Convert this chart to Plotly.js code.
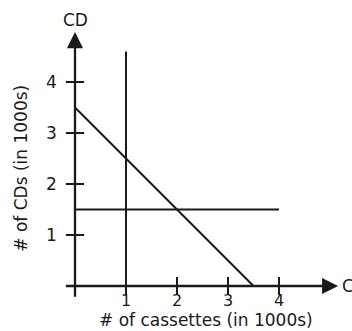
<!DOCTYPE html>
<html><head><meta charset="utf-8">
<script src="https://cdn.plot.ly/plotly-3.0.1.min.js"></script>
<style>html,body{margin:0;padding:0;background:#fff;}#chart{width:352px;height:331px;}</style>
</head><body><div id="chart"></div>
<script>
// Budget / constraint lines (in 1000s)
const vLineX = [1, 1];
const vLineY = [0, 4.6];
const hLineX = [0, 4];
const hLineY = [1.5, 1.5];
const diagX = [0, 3.5];
const diagY = [3.5, 0];
// Axis ticks
const xTicks = [1, 2, 3, 4];
const yTicks = [1, 2, 3, 4];
const xTickLabels = ["1", "2", "3", "4"];
const yTickLabels = ["1", "2", "3", "4"];
// Axis extents
const xAxisX = [-0.18, 5.0];
const xAxisY = [0, 0];
const yAxisX = [0, 0];
const yAxisY = [-0.21, 4.85];
const xArrowTip = 5.16;
const yArrowTip = 4.98;

const FONT = "DejaVu Sans, Liberation Sans, Arial, sans-serif";
const FS = 17;
const ink = "#1a1a1a";
const lineStyle = {color: ink, width: 2};

const traces = [
  {x: xAxisX, y: xAxisY, mode: "lines", line: {color: ink, width: 2.3}},
  {x: yAxisX, y: yAxisY, mode: "lines", line: {color: ink, width: 2.3}},
  {x: vLineX, y: vLineY, mode: "lines", line: lineStyle},
  {x: hLineX, y: hLineY, mode: "lines", line: lineStyle},
  {x: diagX, y: diagY, mode: "lines", line: lineStyle},
  {x: xTicks, y: xTicks.map(() => 0), mode: "markers",
   marker: {symbol: "line-ns-open", size: 13, color: ink, line: {color: ink, width: 2}}},
  {x: yTicks.map(() => 0), y: yTicks, mode: "markers",
   marker: {symbol: "line-ew-open", size: 13, color: ink, line: {color: ink, width: 2}}}
];

const annotations = [];
xTicks.forEach((t, i) => annotations.push({
  x: t, y: 0, xref: "x", yref: "y", text: xTickLabels[i], showarrow: false, borderpad: 0,
  xanchor: "center", yanchor: "top", yshift: -4, font: {family: FONT, size: 16, color: ink}
}));
yTicks.forEach((t, i) => annotations.push({
  x: 0, y: t, xref: "x", yref: "y", text: yTickLabels[i], showarrow: false, borderpad: 0,
  xanchor: "right", yanchor: "middle", xshift: -17, font: {family: FONT, size: FS, color: ink}
}));
// arrows
annotations.push({x: xArrowTip, y: 0, ax: xAxisX[1] - 0.1, ay: 0, xref: "x", yref: "y", axref: "x", ayref: "y",
  showarrow: true, arrowhead: 2, arrowsize: 1.4, arrowwidth: 2.3, arrowcolor: ink, text: ""});
annotations.push({x: 0, y: yArrowTip, ax: 0, ay: yAxisY[1] - 0.1, xref: "x", yref: "y", axref: "x", ayref: "y",
  showarrow: true, arrowhead: 2, arrowsize: 1.4, arrowwidth: 2.3, arrowcolor: ink, text: ""});
// axis end labels
annotations.push({x: 0, y: yArrowTip, xref: "x", yref: "y", text: "CD", showarrow: false, borderpad: 0,
  xanchor: "center", yanchor: "bottom", yshift: 1, font: {family: FONT, size: FS, color: ink}});
annotations.push({x: xArrowTip, y: 0, xref: "x", yref: "y", text: "CD", showarrow: false, borderpad: 0,
  xanchor: "left", yanchor: "middle", xshift: 3, font: {family: FONT, size: FS, color: ink}});
// axis titles
annotations.push({x: 2.56, y: 0, xref: "x", yref: "paper", text: "# of cassettes (in 1000s)", showarrow: false, borderpad: 0,
  xanchor: "center", yanchor: "bottom", yshift: -5, font: {family: FONT, size: FS, color: ink}});
annotations.push({x: 0, y: 2.3, xref: "x", yref: "y", text: "# of CDs (in 1000s)", showarrow: false, borderpad: 0,
  textangle: -90, xanchor: "center", yanchor: "middle", xshift: -54, font: {family: FONT, size: FS, color: ink}});

const layout = {
  width: 352, height: 331,
  margin: {l: 24, r: 1, t: 10, b: 5},
  paper_bgcolor: "#fff", plot_bgcolor: "#fff",
  showlegend: false,
  xaxis: {range: [-1, 5.4118], showgrid: false, zeroline: false, showticklabels: false, showline: false, ticks: "", fixedrange: true},
  yaxis: {range: [-0.784, 5.412], showgrid: false, zeroline: false, showticklabels: false, showline: false, ticks: "", fixedrange: true},
  annotations: annotations
};
Plotly.newPlot("chart", traces, layout, {displayModeBar: false, staticPlot: true});
</script>
</body></html>
